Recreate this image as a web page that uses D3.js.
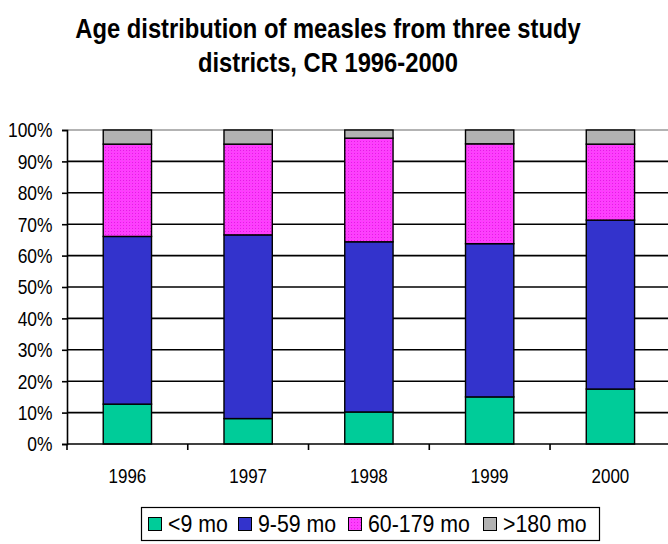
<!DOCTYPE html>
<html>
<head>
<meta charset="utf-8">
<script src="https://cdn.jsdelivr.net/npm/d3@7"></script>
<style>
  html, body { margin: 0; padding: 0; background: #fff; }
  svg { display: block; font-family: "Liberation Sans", Arial, sans-serif; }
</style>
</head>
<body>
<svg id="chart" width="668" height="544"></svg>
<script>
// Years on the category axis
const years = ["1996", "1997", "1998", "1999", "2000"];
// Age groups (stack order, bottom to top)
const groups = ["<9 mo", "9-59 mo", "60-179 mo", ">180 mo"];
// Share of cases per age group, percent
const under9 = [12.7, 8.1, 10.2, 15.0, 17.5];
const m9to59 = [53.4, 58.5, 54.2, 48.8, 53.8];
const m60to179 = [29.4, 28.9, 33.0, 31.8, 24.2];
const over180 = [4.5, 4.5, 2.6, 4.4, 4.5];
// Value-axis tick labels
const yTicks = [0, 10, 20, 30, 40, 50, 60, 70, 80, 90, 100];

const colors = ["#00cc99", "#3333cc", "url(#dotMagenta)", "#b2b2b2"];
const SX = 0.87; // horizontal squeeze applied to all text

const svg = d3.select("#chart");

// Draw a horizontally condensed text label anchored at (x, y)
function label(parent, x, y, txt, size, anchor, weight) {
  return parent.append("text")
    .attr("transform", `translate(${x},${y}) scale(${SX},1)`)
    .attr("text-anchor", anchor || "start")
    .attr("font-size", size)
    .attr("font-weight", weight || "normal")
    .attr("fill", "#000")
    .text(txt);
}

// Dotted fill for the 60-179 mo group
const defs = svg.append("defs");
const pat = defs.append("pattern")
  .attr("id", "dotMagenta")
  .attr("patternUnits", "userSpaceOnUse")
  .attr("width", 3).attr("height", 3);
pat.append("rect").attr("width", 3).attr("height", 3).attr("fill", "#ff3cff");
pat.append("rect").attr("x", 0).attr("y", 0).attr("width", 1).attr("height", 1).attr("fill", "#e020e0");
pat.append("rect").attr("x", 2).attr("y", 1).attr("width", 1).attr("height", 1).attr("fill", "#f050f0");

// Title
label(svg, 328, 38, "Age distribution of measles from three study", 27.3, "middle", "bold");
label(svg, 328, 72, "districts, CR 1996-2000", 27.3, "middle", "bold");

const plotLeft = 67, plotTop = 130, plotBottom = 444, plotRight = 670.8;

const x = d3.scaleBand().domain(years).range([plotLeft, plotRight]).paddingInner(0).paddingOuter(0);
const y = d3.scaleLinear().domain([0, 100]).range([plotBottom, plotTop]);

// Horizontal gridlines
svg.append("g").selectAll("line")
  .data(yTicks.filter(t => t > 0))
  .join("line")
  .attr("x1", plotLeft).attr("x2", plotRight)
  .attr("y1", d => y(d)).attr("y2", d => y(d))
  .attr("stroke", d => d === 100 ? "#9a9a9a" : "#000")
  .attr("stroke-width", 1.6);

// Stacked bars
const rows = years.map((yr, i) => ({
  year: yr,
  [groups[0]]: under9[i],
  [groups[1]]: m9to59[i],
  [groups[2]]: m60to179[i],
  [groups[3]]: over180[i]
}));
const stacked = d3.stack().keys(groups)(rows);
const barW = x.bandwidth() * 0.4;

svg.append("g").selectAll("g")
  .data(stacked)
  .join("g")
  .attr("fill", (d, i) => colors[i])
  .selectAll("rect")
  .data(d => d)
  .join("rect")
  .attr("x", d => x(d.data.year) + (x.bandwidth() - barW) / 2)
  .attr("width", barW)
  .attr("y", d => y(d[1]))
  .attr("height", d => y(d[0]) - y(d[1]))
  .attr("stroke", "#000")
  .attr("stroke-width", 1.4);

// Value axis: line and ticks from d3.axisLeft, labels condensed
const yAxis = svg.append("g")
  .attr("transform", `translate(${plotLeft},0)`)
  .call(d3.axisLeft(y).tickValues(yTicks).tickFormat("").tickSize(5));
yAxis.select(".domain").attr("stroke", "#000").attr("stroke-width", 1.6);
yAxis.selectAll(".tick line").attr("stroke", "#000").attr("stroke-width", 1.6);
const yLab = svg.append("g");
yTicks.forEach(t => label(yLab, 52.5, y(t) + 7.3, t + "%", 20, "end"));

// Category axis
svg.append("line")
  .attr("x1", plotLeft).attr("x2", plotRight)
  .attr("y1", plotBottom).attr("y2", plotBottom)
  .attr("stroke", "#000").attr("stroke-width", 1.6);
svg.append("g").selectAll("line")
  .data(years)
  .join("line")
  .attr("x1", d => x(d)).attr("x2", d => x(d))
  .attr("y1", plotBottom).attr("y2", plotBottom + 6)
  .attr("stroke", "#000").attr("stroke-width", 1.6);
const xLab = svg.append("g");
years.forEach(yr => label(xLab, x(yr) + x.bandwidth() / 2, 483, yr, 19.5, "middle"));

// Legend
const lg = svg.append("g");
const legendX = [148, 238, 348, 483];
lg.append("rect")
  .attr("x", 141.5).attr("y", 507.5).attr("width", 458).attr("height", 33)
  .attr("fill", "#fff").attr("stroke", "#000").attr("stroke-width", 1.2);
groups.forEach((g, i) => {
  lg.append("rect")
    .attr("x", legendX[i] + 0.5).attr("y", 517.5)
    .attr("width", 13).attr("height", 13)
    .attr("fill", colors[i])
    .attr("stroke", "#000").attr("stroke-width", 1);
  label(lg, legendX[i] + 20, 532, g, 24.5, "start");
});
</script>
</body>
</html>
